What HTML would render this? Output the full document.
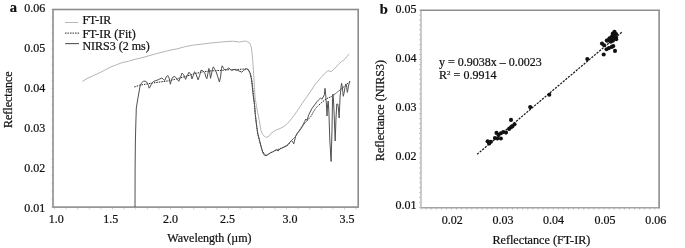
<!DOCTYPE html>
<html><head><meta charset="utf-8"><title>Reflectance spectra</title>
<style>
html,body{margin:0;padding:0;background:#fff;}
body{width:685px;height:248px;overflow:hidden;font-family:"Liberation Serif", serif;}
svg{display:block;filter:grayscale(1);}
</style></head><body>
<svg width="685" height="248" viewBox="0 0 685 248">
<rect width="685" height="248" fill="#fff"/>
<g stroke="#cdcdcd" stroke-width="0.9">
<line x1="54.50" y1="207.6" x2="54.50" y2="209.6" />
<line x1="66.10" y1="207.6" x2="66.10" y2="209.6" />
<line x1="77.70" y1="207.6" x2="77.70" y2="209.6" />
<line x1="89.30" y1="207.6" x2="89.30" y2="209.6" />
<line x1="100.90" y1="207.6" x2="100.90" y2="209.6" />
<line x1="112.50" y1="207.6" x2="112.50" y2="209.6" />
<line x1="124.10" y1="207.6" x2="124.10" y2="209.6" />
<line x1="135.70" y1="207.6" x2="135.70" y2="209.6" />
<line x1="147.30" y1="207.6" x2="147.30" y2="209.6" />
<line x1="158.90" y1="207.6" x2="158.90" y2="209.6" />
<line x1="170.50" y1="207.6" x2="170.50" y2="209.6" />
<line x1="182.10" y1="207.6" x2="182.10" y2="209.6" />
<line x1="193.70" y1="207.6" x2="193.70" y2="209.6" />
<line x1="205.30" y1="207.6" x2="205.30" y2="209.6" />
<line x1="216.90" y1="207.6" x2="216.90" y2="209.6" />
<line x1="228.50" y1="207.6" x2="228.50" y2="209.6" />
<line x1="240.10" y1="207.6" x2="240.10" y2="209.6" />
<line x1="251.70" y1="207.6" x2="251.70" y2="209.6" />
<line x1="263.30" y1="207.6" x2="263.30" y2="209.6" />
<line x1="274.90" y1="207.6" x2="274.90" y2="209.6" />
<line x1="286.50" y1="207.6" x2="286.50" y2="209.6" />
<line x1="298.10" y1="207.6" x2="298.10" y2="209.6" />
<line x1="309.70" y1="207.6" x2="309.70" y2="209.6" />
<line x1="321.30" y1="207.6" x2="321.30" y2="209.6" />
<line x1="332.90" y1="207.6" x2="332.90" y2="209.6" />
<line x1="344.50" y1="207.6" x2="344.50" y2="209.6" />
<line x1="356.10" y1="207.6" x2="356.10" y2="209.6" />
</g><g stroke="#dcdcdc" stroke-width="0.8">
<line x1="51.0" y1="9.50" x2="52.2" y2="9.50" />
<line x1="51.0" y1="17.40" x2="52.2" y2="17.40" />
<line x1="51.0" y1="25.30" x2="52.2" y2="25.30" />
<line x1="51.0" y1="33.20" x2="52.2" y2="33.20" />
<line x1="51.0" y1="41.10" x2="52.2" y2="41.10" />
<line x1="51.0" y1="49.00" x2="52.2" y2="49.00" />
<line x1="51.0" y1="56.90" x2="52.2" y2="56.90" />
<line x1="51.0" y1="64.80" x2="52.2" y2="64.80" />
<line x1="51.0" y1="72.70" x2="52.2" y2="72.70" />
<line x1="51.0" y1="80.60" x2="52.2" y2="80.60" />
<line x1="51.0" y1="88.50" x2="52.2" y2="88.50" />
<line x1="51.0" y1="96.40" x2="52.2" y2="96.40" />
<line x1="51.0" y1="104.30" x2="52.2" y2="104.30" />
<line x1="51.0" y1="112.20" x2="52.2" y2="112.20" />
<line x1="51.0" y1="120.10" x2="52.2" y2="120.10" />
<line x1="51.0" y1="128.00" x2="52.2" y2="128.00" />
<line x1="51.0" y1="135.90" x2="52.2" y2="135.90" />
<line x1="51.0" y1="143.80" x2="52.2" y2="143.80" />
<line x1="51.0" y1="151.70" x2="52.2" y2="151.70" />
<line x1="51.0" y1="159.60" x2="52.2" y2="159.60" />
<line x1="51.0" y1="167.50" x2="52.2" y2="167.50" />
<line x1="51.0" y1="175.40" x2="52.2" y2="175.40" />
<line x1="51.0" y1="183.30" x2="52.2" y2="183.30" />
<line x1="51.0" y1="191.20" x2="52.2" y2="191.20" />
<line x1="51.0" y1="199.10" x2="52.2" y2="199.10" />
<line x1="51.0" y1="207.00" x2="52.2" y2="207.00" />
</g>
<rect x="53" y="9.5" width="305.2" height="197.6" fill="none" stroke="#8c8c8c" stroke-width="1.6"/>
<polyline points="82.4,81.4 87.0,78.6 92.1,76.2 98.0,73.5 104.2,70.5 110.0,67.3 116.3,64.8 122.0,62.7 128.4,61.3 134.0,59.6 140.0,58.2 148.9,55.8 157.7,53.3 166.6,51.1 170.0,50.2 176.9,48.9 185.7,46.5 194.6,44.9 200.0,44.4 208.1,43.3 214.0,42.7 220.2,42.1 226.0,41.6 232.3,41.2 236.0,41.5 239.5,42.1 242.0,41.6 244.4,41.1 246.5,41.3 248.0,42.1 249.5,43.0 250.4,44.5 251.1,46.8 251.6,49.3 252.2,54.2 252.6,58.5 253.1,65.9 253.8,76.8 254.5,87.7 255.2,100.0 255.7,101.5 257.4,111.1 259.3,120.8 261.0,130.6 262.5,134.2 264.6,136.5 266.7,137.4 268.8,136.3 270.9,133.5 273.7,131.3 276.5,129.9 280.1,128.5 284.0,126.4 287.5,123.5 291.3,119.0 294.0,115.5 297.0,111.2 300.0,106.8 302.6,102.8 305.5,98.6 308.2,95.0 311.5,90.0 314.7,85.0 318.0,81.0 321.3,77.2 324.5,73.8 328.0,70.6 331.3,71.7 333.5,69.5 335.8,67.2 338.5,64.4 341.3,61.7 344.7,59.4 347.0,56.5 349.1,53.9" fill="none" stroke="#acacac" stroke-width="0.9"/>
<polyline points="134.3,87.0 139.3,85.3 145.6,84.2 151.8,83.1 160.0,82.0 168.7,80.8 177.0,78.8 185.0,76.6 195.0,73.6 204.0,71.6 212.0,70.8 221.0,70.4 230.0,69.6 238.0,69.4 245.0,69.0 248.5,69.8 250.5,73.5 251.8,80.0 252.8,88.0 253.6,96.0 254.5,105.0 255.3,114.4 256.4,124.0 257.7,134.0 259.5,141.0 261.5,148.0 263.5,153.0 266.0,155.4 268.8,154.0 272.0,152.2 276.0,150.3 280.0,148.6 284.0,147.0 288.0,144.8 291.3,140.8 295.7,136.2 298.0,132.5 301.0,127.8 304.0,124.0 307.0,120.8 310.8,116.5 313.3,112.1 315.7,108.2 318.0,105.8 321.7,102.5 326.5,98.7 331.4,96.6 336.0,93.2 340.5,89.6 345.0,85.8 350.1,81.3" fill="none" stroke="#222" stroke-width="1" stroke-dasharray="1.5 1"/>
<polyline points="135.0,207.0 135.1,170.0 135.4,140.0 135.8,125.0 136.3,108.0 137.6,100.0 139.0,92.0 140.1,86.0 141.6,82.8 143.3,81.4 145.0,81.1 146.7,82.0 148.4,85.3 149.2,88.2 150.0,87.0 151.8,83.1 153.5,81.5 155.8,80.6 158.0,79.9 159.9,78.9 161.9,78.0 163.5,79.5 164.8,80.4 166.2,77.0 167.7,75.5 169.1,78.0 170.4,84.2 171.5,79.4 173.0,77.0 174.9,76.5 176.9,78.9 178.8,81.3 180.4,77.5 182.0,73.1 183.6,74.6 185.6,79.4 187.0,76.0 189.0,72.2 190.9,74.6 192.0,78.9 193.3,75.5 194.6,71.7 196.2,74.6 198.1,79.9 199.6,75.5 201.0,70.2 203.1,71.0 204.7,72.6 205.8,76.8 206.8,78.8 207.9,73.6 208.9,68.4 209.7,72.0 210.5,78.3 211.5,74.1 212.6,68.4 213.4,66.8 214.7,69.4 216.2,72.0 217.8,76.8 219.4,82.0 220.6,76.8 221.5,68.4 222.2,65.8 223.6,68.4 225.1,70.0 226.7,69.4 228.8,67.9 230.4,69.4 231.9,70.5 234.0,69.4 235.6,70.0 237.7,70.5 240.0,71.3 241.8,72.2 243.6,70.4 246.4,68.6 248.2,69.5 250.0,73.1 251.3,78.6 252.0,84.0 252.7,91.3 253.4,97.0 254.5,104.7 255.3,114.4 256.4,124.0 257.7,133.0 259.6,140.5 261.3,147.5 262.7,152.5 264.1,154.9 266.0,155.7 267.4,154.9 268.8,153.9 270.9,152.5 273.0,151.8 275.1,150.4 276.5,149.6 278.2,151.0 280.1,148.9 283.6,147.3 287.3,145.5 288.9,143.4 291.3,140.5 292.5,141.5 293.7,143.9 295.7,136.2 297.1,133.3 298.6,131.8 300.5,129.5 302.0,127.0 304.7,121.4 305.8,119.0 307.0,120.3 308.9,114.5 311.8,108.7 314.7,104.8 317.1,101.5 318.6,99.9 320.5,98.0 321.8,99.3 323.2,97.0 324.4,94.8 325.0,88.3 325.7,94.8 326.4,104.0 327.0,116.0 327.5,106.0 328.2,101.0 328.9,112.0 329.8,140.0 331.1,161.5 332.0,130.0 332.5,100.0 332.9,94.1 333.5,100.0 334.2,115.0 335.2,141.0 336.0,118.0 336.8,104.0 337.8,104.0 338.6,110.0 339.1,118.0 339.7,106.0 340.1,96.0 340.5,92.9 341.1,86.2 341.6,83.3 342.2,86.2 342.8,91.8 343.3,96.3 344.1,92.9 345.0,87.3 345.9,83.9 346.7,87.3 347.3,92.4 347.9,89.5 348.6,85.0 349.5,82.8 350.1,81.6" fill="none" stroke="#505050" stroke-width="1" stroke-linejoin="round"/>
<line x1="65" y1="22.5" x2="78.5" y2="22.5" stroke="#b0b0b0" stroke-width="0.9"/>
<line x1="65" y1="33.1" x2="79.8" y2="33.1" stroke="#333" stroke-width="1" stroke-dasharray="1.6 0.9"/>
<line x1="65.2" y1="43.6" x2="79" y2="43.6" stroke="#555" stroke-width="1.1"/>
<g stroke="#b4b4b4" stroke-width="0.8">
<line x1="421.00" y1="207.7" x2="421.00" y2="209.7" />
<line x1="426.08" y1="207.7" x2="426.08" y2="209.7" />
<line x1="431.17" y1="207.7" x2="431.17" y2="209.7" />
<line x1="436.25" y1="207.7" x2="436.25" y2="209.7" />
<line x1="441.34" y1="207.7" x2="441.34" y2="209.7" />
<line x1="446.42" y1="207.7" x2="446.42" y2="209.7" />
<line x1="451.51" y1="207.7" x2="451.51" y2="209.7" />
<line x1="456.59" y1="207.7" x2="456.59" y2="209.7" />
<line x1="461.68" y1="207.7" x2="461.68" y2="209.7" />
<line x1="466.76" y1="207.7" x2="466.76" y2="209.7" />
<line x1="471.85" y1="207.7" x2="471.85" y2="209.7" />
<line x1="476.93" y1="207.7" x2="476.93" y2="209.7" />
<line x1="482.02" y1="207.7" x2="482.02" y2="209.7" />
<line x1="487.10" y1="207.7" x2="487.10" y2="209.7" />
<line x1="492.19" y1="207.7" x2="492.19" y2="209.7" />
<line x1="497.27" y1="207.7" x2="497.27" y2="209.7" />
<line x1="502.36" y1="207.7" x2="502.36" y2="209.7" />
<line x1="507.44" y1="207.7" x2="507.44" y2="209.7" />
<line x1="512.53" y1="207.7" x2="512.53" y2="209.7" />
<line x1="517.61" y1="207.7" x2="517.61" y2="209.7" />
<line x1="522.70" y1="207.7" x2="522.70" y2="209.7" />
<line x1="527.78" y1="207.7" x2="527.78" y2="209.7" />
<line x1="532.87" y1="207.7" x2="532.87" y2="209.7" />
<line x1="537.95" y1="207.7" x2="537.95" y2="209.7" />
<line x1="543.04" y1="207.7" x2="543.04" y2="209.7" />
<line x1="548.12" y1="207.7" x2="548.12" y2="209.7" />
<line x1="553.21" y1="207.7" x2="553.21" y2="209.7" />
<line x1="558.29" y1="207.7" x2="558.29" y2="209.7" />
<line x1="563.38" y1="207.7" x2="563.38" y2="209.7" />
<line x1="568.47" y1="207.7" x2="568.47" y2="209.7" />
<line x1="573.55" y1="207.7" x2="573.55" y2="209.7" />
<line x1="578.64" y1="207.7" x2="578.64" y2="209.7" />
<line x1="583.72" y1="207.7" x2="583.72" y2="209.7" />
<line x1="588.81" y1="207.7" x2="588.81" y2="209.7" />
<line x1="593.89" y1="207.7" x2="593.89" y2="209.7" />
<line x1="598.98" y1="207.7" x2="598.98" y2="209.7" />
<line x1="604.06" y1="207.7" x2="604.06" y2="209.7" />
<line x1="609.15" y1="207.7" x2="609.15" y2="209.7" />
<line x1="614.23" y1="207.7" x2="614.23" y2="209.7" />
<line x1="619.32" y1="207.7" x2="619.32" y2="209.7" />
<line x1="624.40" y1="207.7" x2="624.40" y2="209.7" />
<line x1="629.49" y1="207.7" x2="629.49" y2="209.7" />
<line x1="634.57" y1="207.7" x2="634.57" y2="209.7" />
<line x1="639.66" y1="207.7" x2="639.66" y2="209.7" />
<line x1="644.74" y1="207.7" x2="644.74" y2="209.7" />
<line x1="649.83" y1="207.7" x2="649.83" y2="209.7" />
<line x1="654.91" y1="207.7" x2="654.91" y2="209.7" />
<line x1="419" y1="10.20" x2="421" y2="10.20" />
<line x1="419" y1="15.13" x2="421" y2="15.13" />
<line x1="419" y1="20.06" x2="421" y2="20.06" />
<line x1="419" y1="24.99" x2="421" y2="24.99" />
<line x1="419" y1="29.92" x2="421" y2="29.92" />
<line x1="419" y1="34.85" x2="421" y2="34.85" />
<line x1="419" y1="39.78" x2="421" y2="39.78" />
<line x1="419" y1="44.71" x2="421" y2="44.71" />
<line x1="419" y1="49.64" x2="421" y2="49.64" />
<line x1="419" y1="54.57" x2="421" y2="54.57" />
<line x1="419" y1="59.50" x2="421" y2="59.50" />
<line x1="419" y1="64.43" x2="421" y2="64.43" />
<line x1="419" y1="69.36" x2="421" y2="69.36" />
<line x1="419" y1="74.29" x2="421" y2="74.29" />
<line x1="419" y1="79.22" x2="421" y2="79.22" />
<line x1="419" y1="84.15" x2="421" y2="84.15" />
<line x1="419" y1="89.08" x2="421" y2="89.08" />
<line x1="419" y1="94.01" x2="421" y2="94.01" />
<line x1="419" y1="98.94" x2="421" y2="98.94" />
<line x1="419" y1="103.87" x2="421" y2="103.87" />
<line x1="419" y1="108.80" x2="421" y2="108.80" />
<line x1="419" y1="113.73" x2="421" y2="113.73" />
<line x1="419" y1="118.66" x2="421" y2="118.66" />
<line x1="419" y1="123.59" x2="421" y2="123.59" />
<line x1="419" y1="128.52" x2="421" y2="128.52" />
<line x1="419" y1="133.45" x2="421" y2="133.45" />
<line x1="419" y1="138.38" x2="421" y2="138.38" />
<line x1="419" y1="143.31" x2="421" y2="143.31" />
<line x1="419" y1="148.24" x2="421" y2="148.24" />
<line x1="419" y1="153.17" x2="421" y2="153.17" />
<line x1="419" y1="158.10" x2="421" y2="158.10" />
<line x1="419" y1="163.03" x2="421" y2="163.03" />
<line x1="419" y1="167.96" x2="421" y2="167.96" />
<line x1="419" y1="172.89" x2="421" y2="172.89" />
<line x1="419" y1="177.82" x2="421" y2="177.82" />
<line x1="419" y1="182.75" x2="421" y2="182.75" />
<line x1="419" y1="187.68" x2="421" y2="187.68" />
<line x1="419" y1="192.61" x2="421" y2="192.61" />
<line x1="419" y1="197.54" x2="421" y2="197.54" />
<line x1="419" y1="202.47" x2="421" y2="202.47" />
<line x1="419" y1="207.40" x2="421" y2="207.40" />
</g>
<line x1="421" y1="10.2" x2="421" y2="207.7" stroke="#c4c4c4" stroke-width="1.8"/>
<line x1="421" y1="207.7" x2="659.1" y2="207.7" stroke="#a4a4a4" stroke-width="1.6"/>
<path d="M420.2 10.2 H659.1 V208.5" fill="none" stroke="#8e8e8e" stroke-width="1.6"/>
<line x1="477.1" y1="154.3" x2="621.7" y2="32.3" stroke="#1a1a1a" stroke-width="1.25" stroke-dasharray="2.2 1.2"/>
<g fill="#111">
<circle cx="487.6" cy="141.3" r="2.05"/>
<circle cx="490.9" cy="141.7" r="2.05"/>
<circle cx="489.2" cy="143.4" r="2.05"/>
<circle cx="488.6" cy="142.2" r="2.05"/>
<circle cx="494.9" cy="138.1" r="2.05"/>
<circle cx="497.3" cy="138.5" r="2.05"/>
<circle cx="500.9" cy="138.5" r="2.05"/>
<circle cx="496.5" cy="132.9" r="2.05"/>
<circle cx="498.5" cy="134.9" r="2.05"/>
<circle cx="500.9" cy="133.3" r="2.05"/>
<circle cx="503.3" cy="132.0" r="2.05"/>
<circle cx="506.0" cy="132.6" r="2.05"/>
<circle cx="509.1" cy="128.9" r="2.05"/>
<circle cx="511.3" cy="127.1" r="2.05"/>
<circle cx="511.0" cy="119.9" r="2.05"/>
<circle cx="512.4" cy="126.3" r="2.05"/>
<circle cx="514.5" cy="124.2" r="2.05"/>
<circle cx="530.2" cy="107.1" r="2.05"/>
<circle cx="549.3" cy="94.8" r="2.05"/>
<circle cx="587.3" cy="59.1" r="2.05"/>
<circle cx="603.7" cy="54.5" r="2.05"/>
<circle cx="602.0" cy="43.6" r="2.05"/>
<circle cx="604.1" cy="45.3" r="2.05"/>
<circle cx="606.5" cy="49.3" r="2.05"/>
<circle cx="608.9" cy="48.1" r="2.05"/>
<circle cx="611.7" cy="46.9" r="2.05"/>
<circle cx="613.3" cy="46.1" r="2.05"/>
<circle cx="615.0" cy="50.9" r="2.05"/>
<circle cx="608.1" cy="40.4" r="2.05"/>
<circle cx="610.5" cy="39.6" r="2.05"/>
<circle cx="612.9" cy="40.8" r="2.05"/>
<circle cx="616.2" cy="39.2" r="2.05"/>
<circle cx="606.8" cy="40.6" r="2.05"/>
<circle cx="609.5" cy="38.3" r="2.05"/>
<circle cx="612" cy="36.2" r="2.05"/>
<circle cx="613.5" cy="38" r="2.05"/>
<circle cx="616" cy="37.2" r="2.05"/>
<circle cx="614" cy="35" r="2.05"/>
<circle cx="616.1" cy="34" r="2.05"/>
<circle cx="614.5" cy="31.8" r="2.05"/>
<circle cx="612.8" cy="33.5" r="2.05"/>
<circle cx="610.8" cy="41.8" r="2.05"/>
</g>
<g font-family='"Liberation Serif", serif' fill="#111" stroke="#111" stroke-width="0.22">
<text x="82.4" y="24.2" font-size="12" text-anchor="start" font-weight="normal" >FT-IR</text>
<text x="82.4" y="37.5" font-size="12" text-anchor="start" font-weight="normal" >FT-IR (Fit)</text>
<text x="82.4" y="50.3" font-size="12" text-anchor="start" font-weight="normal" >NIRS3 (2 ms)</text>
<text x="45.3" y="11.5" font-size="12" text-anchor="end" font-weight="normal" >0.06</text>
<text x="45.3" y="51.57" font-size="12" text-anchor="end" font-weight="normal" >0.05</text>
<text x="45.3" y="91.64" font-size="12" text-anchor="end" font-weight="normal" >0.04</text>
<text x="45.3" y="131.71" font-size="12" text-anchor="end" font-weight="normal" >0.03</text>
<text x="45.3" y="171.78" font-size="12" text-anchor="end" font-weight="normal" >0.02</text>
<text x="45.3" y="211.85" font-size="12" text-anchor="end" font-weight="normal" >0.01</text>
<text x="48.8" y="222.7" font-size="12" text-anchor="start" font-weight="normal" class="xl">1.0</text>
<text x="103.2" y="222.7" font-size="12" text-anchor="start" font-weight="normal" class="xl">1.5</text>
<text x="163.1" y="222.7" font-size="12" text-anchor="start" font-weight="normal" class="xl">2.0</text>
<text x="220.0" y="222.7" font-size="12" text-anchor="start" font-weight="normal" class="xl">2.5</text>
<text x="282.6" y="222.7" font-size="12" text-anchor="start" font-weight="normal" class="xl">3.0</text>
<text x="339.6" y="222.7" font-size="12" text-anchor="start" font-weight="normal" class="xl">3.5</text>
<text x="209.5" y="241.8" font-size="12" text-anchor="middle" font-weight="normal" >Wavelength (µm)</text>
<text x="0" y="0" font-size="12" text-anchor="middle" transform="translate(12.1 99.7) rotate(-90)">Reflectance</text>
<text x="9.8" y="11.8" font-size="14.5" text-anchor="start" font-weight="bold" >a</text>
<text x="416.6" y="13.2" font-size="12" text-anchor="end" font-weight="normal" >0.05</text>
<text x="416.6" y="62.05" font-size="12" text-anchor="end" font-weight="normal" >0.04</text>
<text x="416.6" y="110.9" font-size="12" text-anchor="end" font-weight="normal" >0.03</text>
<text x="416.6" y="159.75" font-size="12" text-anchor="end" font-weight="normal" >0.02</text>
<text x="416.6" y="208.6" font-size="12" text-anchor="end" font-weight="normal" >0.01</text>
<text x="452.3" y="223.7" font-size="12" text-anchor="middle" font-weight="normal" >0.02</text>
<text x="502.9" y="223.7" font-size="12" text-anchor="middle" font-weight="normal" >0.03</text>
<text x="553.5" y="223.7" font-size="12" text-anchor="middle" font-weight="normal" >0.04</text>
<text x="604.9" y="223.7" font-size="12" text-anchor="middle" font-weight="normal" >0.05</text>
<text x="655.7" y="223.7" font-size="12" text-anchor="middle" font-weight="normal" >0.06</text>
<text x="541.4" y="243.9" font-size="12.2" text-anchor="middle" font-weight="normal" >Reflectance (FT-IR)</text>
<text x="0" y="0" font-size="12" text-anchor="middle" transform="translate(384.4 110.5) rotate(-90)">Reflectance (NIRS3)</text>
<text x="439.1" y="65.9" font-size="12" text-anchor="start" font-weight="normal" >y = 0.9038x – 0.0023</text>
<text x="439.1" y="78.6" font-size="12" text-anchor="start" font-weight="normal" >R<tspan font-size="7" dy="-3.6">2</tspan><tspan dy="3.6"> = 0.9914</tspan></text>
<text x="379.8" y="14.1" font-size="14.5" text-anchor="start" font-weight="bold" >b</text>
</g>
</svg>
</body></html>
